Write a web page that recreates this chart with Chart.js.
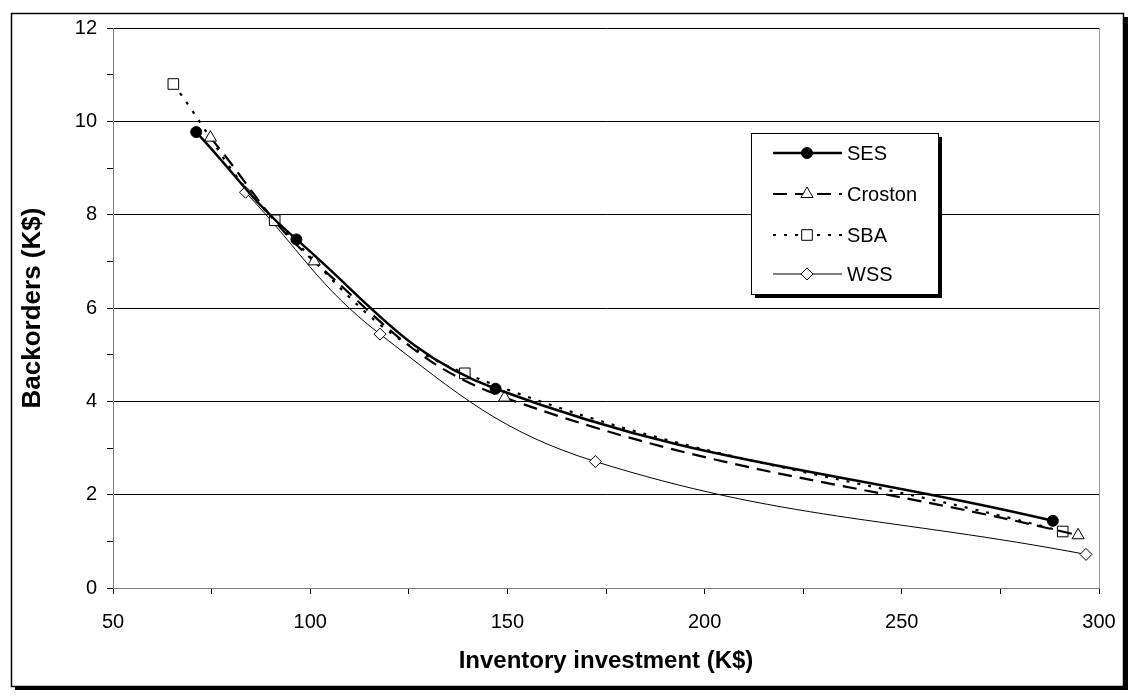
<!DOCTYPE html>
<html><head><meta charset="utf-8">
<script src="https://cdn.jsdelivr.net/npm/chart.js@4.4.0/dist/chart.umd.min.js"></script>
<style>html,body{margin:0;padding:0;background:#fff}canvas{display:block}</style>
</head><body>
<canvas id="c" width="1135" height="698"></canvas>
<script>
// Data
const seriesNames = ['SES', 'Croston', 'SBA', 'WSS'];
const sesX = [71.1, 96.5, 147.0, 288.3];
const sesY = [9.77, 7.47, 4.27, 1.44];
const crostonX = [74.7, 101.0, 149.3, 294.7];
const crostonY = [9.65, 7.00, 4.08, 1.13];
const sbaX = [65.3, 91.0, 139.2, 290.8];
const sbaY = [10.80, 7.88, 4.60, 1.21];
const wssX = [83.6, 117.7, 172.3, 296.7];
const wssY = [8.48, 5.44, 2.71, 0.72];
const xTickLabels = [50, 100, 150, 200, 250, 300];
const yTickLabels = [0, 2, 4, 6, 8, 10, 12];
const xTitle = 'Inventory investment (K$)';
const yTitle = 'Backorders (K$)';

const FONT = 'Arial, "Liberation Sans", sans-serif';
const pts = (xs, ys) => xs.map((x, i) => ({x: x, y: ys[i]}));

const styles = [
  {borderWidth: 2.5, borderDash: [], pointStyle: 'circle', pointRadius: 5.5, fill: '#000'},
  {borderWidth: 2.2, borderDash: [14, 8], pointStyle: 'triangle', pointRadius: 7, fill: '#fff'},
  {borderWidth: 2.2, borderDash: [3, 8], pointStyle: 'rect', pointRadius: 7.5, fill: '#fff'},
  {borderWidth: 1, borderDash: [], pointStyle: 'rectRot', pointRadius: 6, fill: '#fff'}
];
const allData = [pts(sesX, sesY), pts(crostonX, crostonY), pts(sbaX, sbaY), pts(wssX, wssY)];

const datasets = seriesNames.map((n, i) => ({
  label: n,
  data: allData[i],
  borderColor: '#000',
  borderWidth: styles[i].borderWidth,
  borderDash: styles[i].borderDash,
  tension: 0.4,
  pointStyle: styles[i].pointStyle,
  pointRadius: styles[i].pointRadius,
  pointHoverRadius: styles[i].pointRadius,
  pointBackgroundColor: styles[i].fill,
  pointBorderColor: '#000',
  pointBorderWidth: 1,
  fill: false
}));

const framePlugin = {
  id: 'frame',
  beforeDraw(chart) {
    const ctx = chart.ctx;
    ctx.save();
    ctx.fillStyle = '#fff';
    ctx.fillRect(0, 0, chart.width, chart.height);
    // shadow
    ctx.fillStyle = '#000';
    ctx.fillRect(15, 686, 1113, 4);
    ctx.fillRect(1124, 17, 4, 673);
    // border
    ctx.strokeStyle = '#000';
    ctx.lineWidth = 1.5;
    ctx.strokeRect(11.5, 13.5, 1112, 673);
    ctx.restore();
  },
  afterDraw(chart) {
    const ctx = chart.ctx;
    const a = chart.chartArea;
    ctx.save();
    ctx.strokeStyle = '#999';
    ctx.lineWidth = 1;
    ctx.beginPath();
    ctx.moveTo(Math.round(a.right) + 0.5, a.top);
    ctx.lineTo(Math.round(a.right) + 0.5, a.bottom);
    ctx.stroke();
    // legend
    const lx = 751, ly = 133, lw = 187, lh = 161;
    ctx.fillStyle = '#000';
    ctx.fillRect(lx + 4, ly + 4, lw, lh);
    ctx.fillStyle = '#fff';
    ctx.fillRect(lx, ly, lw, lh);
    ctx.strokeStyle = '#000';
    ctx.lineWidth = 1;
    ctx.strokeRect(lx + 0.5, ly + 0.5, lw, lh);
    const rows = [153, 194, 235, 274];
    ctx.font = '20px ' + FONT;
    ctx.textBaseline = 'middle';
    ctx.textAlign = 'left';
    seriesNames.forEach((n, i) => {
      const y = rows[i];
      const s = styles[i];
      ctx.save();
      ctx.strokeStyle = '#000';
      ctx.lineWidth = s.borderWidth;
      ctx.setLineDash(s.borderDash);
      ctx.beginPath();
      ctx.moveTo(773, y);
      ctx.lineTo(842, y);
      ctx.stroke();
      ctx.restore();
      ctx.save();
      ctx.fillStyle = s.fill;
      ctx.strokeStyle = '#000';
      ctx.lineWidth = 1;
      Chart.helpers.drawPoint(ctx, {pointStyle: s.pointStyle, radius: s.pointRadius, borderWidth: 1, rotation: 0}, 807, y);
      ctx.restore();
      ctx.fillStyle = '#000';
      ctx.fillText(n, 847, y + 1);
    });
    ctx.restore();
  }
};

new Chart(document.getElementById('c'), {
  type: 'line',
  data: {datasets: datasets},
  plugins: [framePlugin],
  options: {
    responsive: false,
    animation: false,
    events: [],
    layout: {padding: {left: 0, top: 28, right: 36, bottom: 0}},
    plugins: {legend: {display: false}, tooltip: {enabled: false}},
    scales: {
      x: {
        type: 'linear',
        min: 50, max: 300,
        border: {color: '#808080', width: 1},
        grid: {drawOnChartArea: false, drawTicks: true, tickLength: 6, tickColor: '#000'},
        afterFit(scale) { scale.height = 110; },
        ticks: {
          stepSize: 25, autoSkip: false, maxRotation: 0, padding: 16,
          color: '#000', font: {family: FONT, size: 20},
          callback: v => xTickLabels.includes(v) ? String(v) : ''
        },
        title: {display: true, text: xTitle, color: '#000', padding: {top: 0, bottom: 22},
          font: {family: FONT, size: 24, weight: 'bold'}}
      },
      y: {
        type: 'linear',
        min: 0, max: 12,
        border: {color: '#808080', width: 1},
        grid: {
          color: c => (yTickLabels.includes(c.tick.value) && c.tick.value !== 0) ? '#000' : 'rgba(0,0,0,0)',
          tickColor: '#000', tickLength: 6, drawTicks: true
        },
        afterFit(scale) { scale.width = 113; },
        ticks: {
          stepSize: 1, autoSkip: false, padding: 10,
          color: '#000', font: {family: FONT, size: 20},
          callback: v => yTickLabels.includes(v) ? String(v) : ''
        },
        title: {display: true, text: yTitle, color: '#000', padding: {top: 17, bottom: 0},
          font: {family: FONT, size: 26, weight: 'bold'}}
      }
    }
  }
});
</script>
</body></html>
